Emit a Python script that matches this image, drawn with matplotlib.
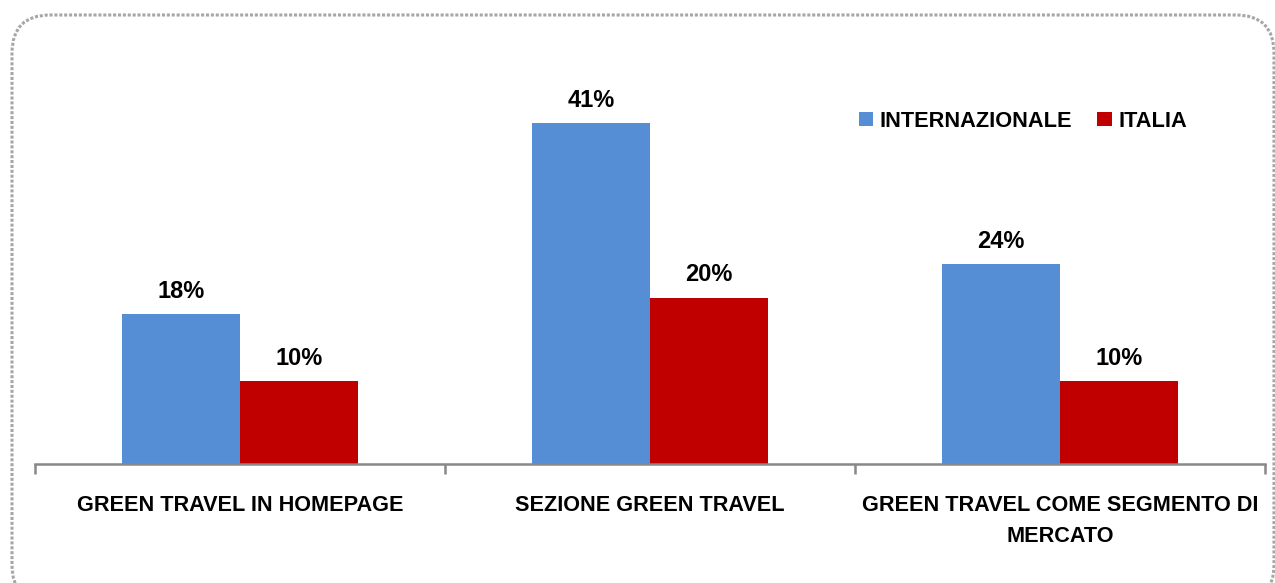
import matplotlib
matplotlib.use("Agg")
import matplotlib.pyplot as plt
from matplotlib.patches import FancyBboxPatch
import numpy as np

categories = ["GREEN TRAVEL IN HOMEPAGE", "SEZIONE GREEN TRAVEL", "GREEN TRAVEL COME SEGMENTO DI\nMERCATO"]
series_names = ["INTERNAZIONALE", "ITALIA"]
internazionale = [0.18, 0.41, 0.24]
italia = [0.10, 0.20, 0.10]
colors = ["#558ED5", "#C00000"]

W, H = 1275, 583
fig = plt.figure(figsize=(W / 100, H / 100), dpi=100)
font = dict(family=["Liberation Sans", "DejaVu Sans"], weight="bold")

# dotted rounded border
border = FancyBboxPatch((12 / W, -20 / H), (1274 - 12) / W, (H - 15 + 20) / H,
                        boxstyle="round,pad=0,rounding_size=0.03",
                        transform=fig.transFigure, fill=False,
                        edgecolor="#A6A6A6", linewidth=2.2, linestyle=(0, (1, 0.6)),
                        mutation_aspect=W / H)
fig.patches.append(border)

ax = fig.add_axes([35 / W, (H - 464) / H, (1265 - 35) / W, 416 / H])
ymax = 0.5
ax.set_ylim(0, ymax)
ax.set_xlim(0, 3)

x = np.arange(len(categories)) + 0.5
bw = 0.288
b1 = ax.bar(x - bw / 2, internazionale, bw, color=colors[0], label=series_names[0])
b2 = ax.bar(x + bw / 2, italia, bw, color=colors[1], label=series_names[1])

for bars, vals in ((b1, internazionale), (b2, italia)):
    for r, v in zip(bars, vals):
        ax.annotate(f"{round(v * 100)}%", (r.get_x() + r.get_width() / 2, v),
                    xytext=(0, 8), textcoords="offset points", ha="center", va="bottom",
                    fontsize=17, **font)

for s in ["top", "right", "left"]:
    ax.spines[s].set_visible(False)
ax.spines["bottom"].set_color("#888888")
ax.spines["bottom"].set_linewidth(1.8)
ax.set_yticks([])
ax.set_xticks([0, 1, 2, 3])
ax.set_xticklabels([])
ax.tick_params(axis="x", length=7, width=1.8, color="#888888", direction="out")

for xi, lab in zip(x, categories):
    ax.text(xi, -31 / 832, lab, ha="center", va="top", fontsize=15.6,
            linespacing=1.62, transform=ax.transData, **font)

leg = ax.legend(loc="upper left", bbox_to_anchor=((850 - 35) / 1230, (464 - 102) / 416),
                ncol=2, frameon=False, handlelength=0.66, handleheight=0.66,
                handletextpad=0.3, columnspacing=1.15, borderaxespad=0,
                prop=dict(family=font["family"], weight="bold", size=15.7))

fig.savefig("out.png", dpi=100)
